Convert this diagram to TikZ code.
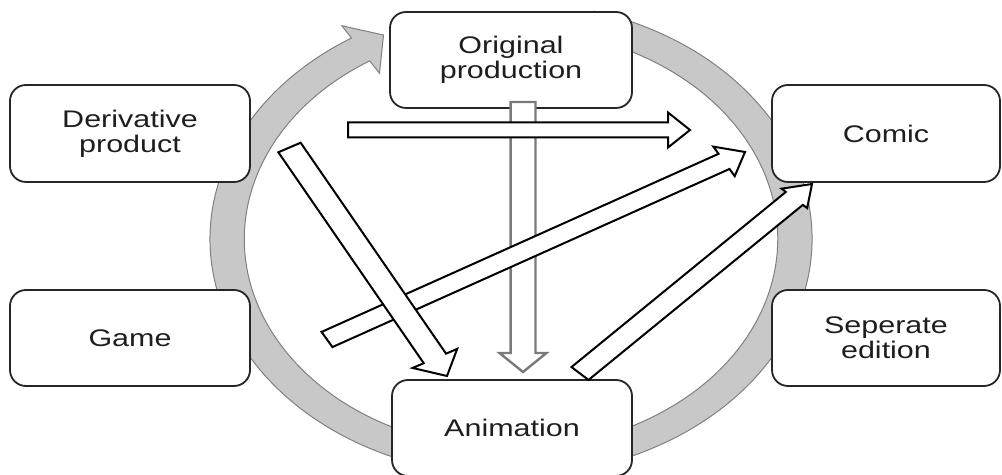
\documentclass[tikz,border=0pt]{standalone}
\usepackage{fontspec}
\setmainfont{Liberation Sans}[FakeStretch=1.27]
\definecolor{ringfill}{HTML}{C8C8C8}
\definecolor{ringline}{HTML}{808080}
\definecolor{vgray}{HTML}{7A7A7A}
\definecolor{textc}{HTML}{1E1E1E}
% block arrow: #1 style, (#2,#3) tail px, (#4,#5) tip px, #6 shaft half width, #7 head half width, #8 head length (unstretched units)
\newcommand\blockarrow[8]{%
 \pgfmathsetmacro\baTx{#2/1.27}%
 \pgfmathsetmacro\baTy{#3}%
 \pgfmathsetmacro\baHx{#4/1.27}%
 \pgfmathsetmacro\baHy{#5}%
 \pgfmathsetmacro\baL{veclen(\baHx-\baTx,\baHy-\baTy)}%
 \pgfmathsetmacro\baUx{(\baHx-\baTx)/\baL}%
 \pgfmathsetmacro\baUy{(\baHy-\baTy)/\baL}%
 \pgfmathsetmacro\baBx{\baHx-#8*(\baUx)}%
 \pgfmathsetmacro\baBy{\baHy-#8*(\baUy)}%
 \begin{scope}[xscale=1.27]
 \draw[#1] ({\baTx-#6*(\baUy)},{\baTy+#6*(\baUx)}) -- ({\baBx-#6*(\baUy)},{\baBy+#6*(\baUx)}) -- ({\baBx-#7*(\baUy)},{\baBy+#7*(\baUx)}) -- (\baHx,\baHy) -- ({\baBx+#7*(\baUy)},{\baBy-#7*(\baUx)}) -- ({\baBx+#6*(\baUy)},{\baBy-#6*(\baUx)}) -- ({\baTx+#6*(\baUy)},{\baTy-#6*(\baUx)}) -- cycle;
 \end{scope}}
\begin{document}
\begin{tikzpicture}[x=0.5pt,y=-0.5pt,
 box/.style={draw=black!85, line width=0.9pt, rounded corners=8pt, fill=white, align=center, inner sep=0pt, text=textc, font=\fontsize{12}{12.5}\selectfont},
 ringstyle/.style={fill=ringfill, draw=ringline, line width=0.5pt},
 blk/.style={draw=black, line width=1pt, fill=white, line join=miter},
 gblk/.style={draw=vgray, line width=1.2pt, fill=white, line join=miter}]
\useasboundingbox (0,0) rectangle (1002,475);
% ring arrow (a circle stretched horizontally)
\begin{scope}[xscale=1.27]
 \filldraw[ringstyle] (467.7,11.2) arc[start angle=-74,end angle=238,radius=237]
   -- (269.2,25.8) -- (302,35) -- (298.8,73.2) -- (291.1,60.9)
   arc[start angle=238,end angle=-74,radius=210] -- cycle;
\end{scope}
% boxes
\node[box, minimum width=120pt, minimum height=48.5pt] (deriv) at (130,133.5) {Derivative\\product};
\node[box, minimum width=120pt, minimum height=48pt] (game) at (130,338) {Game};
\node[box, minimum width=121pt, minimum height=48pt] (orig) at (511,60) {Original\\production};
\node[box, minimum width=114pt, minimum height=48pt] (sep) at (886,338) {Seperate\\edition};
\node[box, minimum width=120pt, minimum height=48pt] (anim) at (512,428) {Animation};
% block arrows
\blockarrow{gblk}{523}{102}{523}{372}{9.8}{18.5}{19}
\blockarrow{blk}{348}{130}{690}{130}{7.5}{17.5}{17.3}
\blockarrow{blk}{327}{339.5}{745}{152}{8.7}{17}{19}
\blockarrow{blk}{289.5}{147.5}{447}{376}{10}{20}{20}
\blockarrow{blk}{580}{373.5}{812}{184}{9.3}{14}{20}
\node[box, minimum width=114pt, minimum height=48.5pt] (comic) at (886,133.5) {Comic};
\end{tikzpicture}
\end{document}
